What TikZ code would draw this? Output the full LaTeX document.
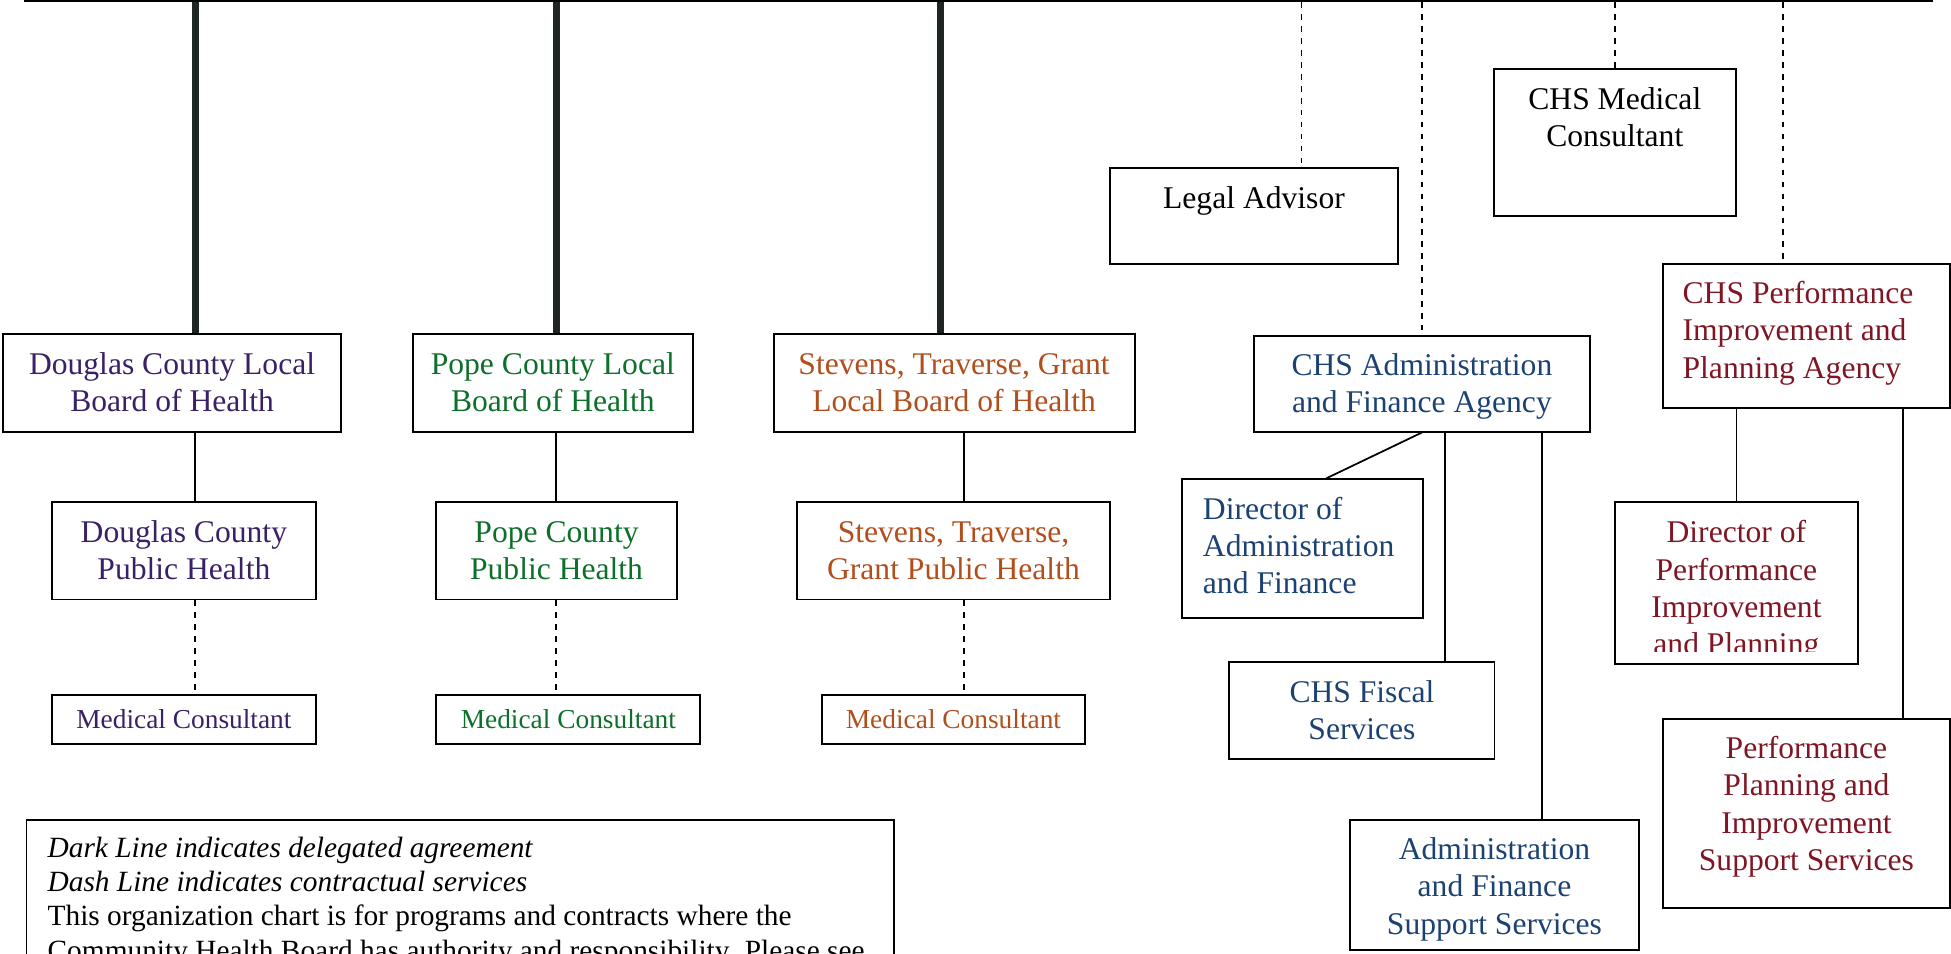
\documentclass[tikz,border=0pt]{standalone}
\usepackage{fontspec}
\setmainfont{Liberation Serif}
\definecolor{douglas}{RGB}{58, 32, 102}
\definecolor{pope}{RGB}{12, 112, 42}
\definecolor{stevens}{RGB}{178, 78, 28}
\definecolor{chsblue}{RGB}{28, 66, 116}
\definecolor{chsred}{RGB}{128, 22, 36}
\definecolor{heavyline}{RGB}{30, 38, 34}
\newlength{\px}
\setlength{\px}{0.5pt}
\newcommand{\boxtext}[4]{\parbox[c][#2\px][t]{#1\px}{#3\hyphenpenalty=10000\vspace*{11\px}\strut#4}}
\newcommand{\mctext}[1]{\parbox[c][39\px][c]{#1\px}{\centering Medical Consultant}}

\begin{document}
\begin{tikzpicture}[x=0.5pt, y=-0.5pt,
    box/.style={draw, line width=0.8pt, inner sep=0pt, anchor=north west, font=\fontsize{12.7}{15}\selectfont},
    mcbox/.style={box, font=\fontsize{11}{13}\selectfont},
    heavy/.style={line width=2.8pt, heavyline},
    link/.style={line width=0.7pt},
    contract/.style={line width=0.75pt, dash pattern=on 2.2pt off 2.6pt}]
    \useasboundingbox (0,0) rectangle (1568,766);

    \node[draw, line width=1.1pt, inner sep=0pt, anchor=south west, minimum width=766pt, minimum height=40pt] (chb) at (19,2) {};

    \node[box, text=douglas] (dougLBH) at (2,268) {\boxtext{271}{78}{\centering}{Douglas County Local\\Board of Health}};
    \node[box, text=pope] (popeLBH) at (331,268) {\boxtext{225}{78}{\centering}{Pope County Local\\Board of Health}};
    \node[box, text=stevens] (stgLBH) at (621,268) {\boxtext{290}{78}{\centering}{Stevens, Traverse, Grant\\Local Board of Health}};

    \node[box, text=douglas] (dougPH) at (41,403) {\boxtext{212}{78}{\centering}{Douglas County\\Public Health}};
    \node[box, text=pope] (popePH) at (350,403) {\boxtext{193}{78}{\centering}{Pope County\\Public Health}};
    \node[box, text=stevens] (stgPH) at (640,403) {\boxtext{251}{78}{\centering}{Stevens, Traverse,\\Grant Public Health}};

    \node[mcbox, text=douglas] (dougMC) at (41,558) {\mctext{212}};
    \node[mcbox, text=pope] (popeMC) at (350,558) {\mctext{212}};
    \node[mcbox, text=stevens] (stgMC) at (660,558) {\mctext{211}};

    \node[box] (legal) at (891,134.5) {\boxtext{232}{77}{\centering}{Legal Advisor}};
    \node[box] (chsMed) at (1200,55) {\boxtext{194}{118}{\centering}{CHS Medical\\Consultant}};
    \node[box, text=chsblue] (chsAdmin) at (1007,269) {\boxtext{270}{77}{\centering}{CHS Administration\\and Finance Agency}};
    \node[box, text=chsred] (chsPerf) at (1335.5,211) {\boxtext{230.5}{116}{\raggedright\leftskip=16\px}{CHS Performance\\Improvement and\\Planning Agency}};

    \node[box, text=chsblue] (dirAF) at (949,384.4) {\boxtext{193.5}{111.7}{\raggedright\leftskip=17\px}{Director of\\Administration\\and Finance}};
    \node[box, text=chsblue] (fiscal) at (987.3,531.6) {\boxtext{213}{77.5}{\centering}{CHS Fiscal\\Services}};
    \node[box, text=chsblue] (afSupport) at (1084,658) {\boxtext{232.6}{104.6}{\centering}{Administration\\and Finance\\Support Services}};
    \begin{scope}
        \clip (1290,395) rectangle (1500,523.5);
        \node[box, draw=none, text=chsred] (dirPerf) at (1297.7,403.5) {\boxtext{194}{128.6}{\centering}{Director of\\Performance\\Improvement\\and Planning}};
    \end{scope}
    \draw[line width=0.8pt] (dirPerf.north west) rectangle (dirPerf.south east);
    \node[box, text=chsred] (perfSupport) at (1336,576.8) {\boxtext{230}{152}{\centering}{Performance\\Planning and\\Improvement\\Support Services}};

    \node[box, font=\fontsize{11.8}{13.75}\selectfont] (legend) at (20.5,658) {\boxtext{697}{220}{\raggedright\leftskip=17\px}{\textit{Dark Line indicates delegated agreement}\\\textit{Dash Line indicates contractual services}\\This organization chart is for programs and contracts where the\\Community Health Board has authority and responsibility.  Please see}};

    \coordinate (dougline) at (157,0);
    \coordinate (popeline) at (447,0);
    \coordinate (stgheavy) at (756,0);
    \coordinate (stgline) at (775,0);
    \coordinate (legalline) at (1046,0);
    \coordinate (perfline) at (1433,0);
    \coordinate (dirAFend) at (1066,0);
    \coordinate (fiscalline) at (1161.5,0);
    \coordinate (supportline) at (1239,0);
    \coordinate (perfsupline) at (1529.5,0);

    \draw[heavy] (chb.south -| dougline) -- (dougLBH.north -| dougline);
    \draw[heavy] (chb.south -| popeline) -- (popeLBH.north -| popeline);
    \draw[heavy] (chb.south -| stgheavy) -- (stgLBH.north -| stgheavy);

    \draw[link] (dougLBH.south -| dougline) -- (dougPH.north -| dougline);
    \draw[link] (popeLBH.south -| popeline) -- (popePH.north -| popeline);
    \draw[link] (stgLBH.south -| stgline) -- (stgPH.north -| stgline);
    \draw[contract] (dougPH.south -| dougline) -- (dougMC.north -| dougline);
    \draw[contract] (popePH.south -| popeline) -- (popeMC.north -| popeline);
    \draw[contract] (stgPH.south -| stgline) -- (stgMC.north -| stgline);

    \draw[contract] (chb.south -| legalline) -- (legal.north -| legalline);
    \draw[contract] (chb.south -| chsAdmin.north) -- (chsAdmin.north);
    \draw[contract] (chb.south -| chsMed.north) -- (chsMed.north);
    \draw[contract] (chb.south -| perfline) -- (chsPerf.north -| perfline);

    \draw[link] (chsAdmin.south) -- (dirAF.north -| dirAFend);
    \draw[link] (chsAdmin.south -| fiscalline) -- (fiscal.north -| fiscalline);
    \draw[link] (chsAdmin.south -| supportline) -- (afSupport.north -| supportline);
    \draw[link] (chsPerf.south -| dirPerf.north) -- (dirPerf.north);
    \draw[link] (chsPerf.south -| perfsupline) -- (perfSupport.north -| perfsupline);
\end{tikzpicture}
\end{document}
